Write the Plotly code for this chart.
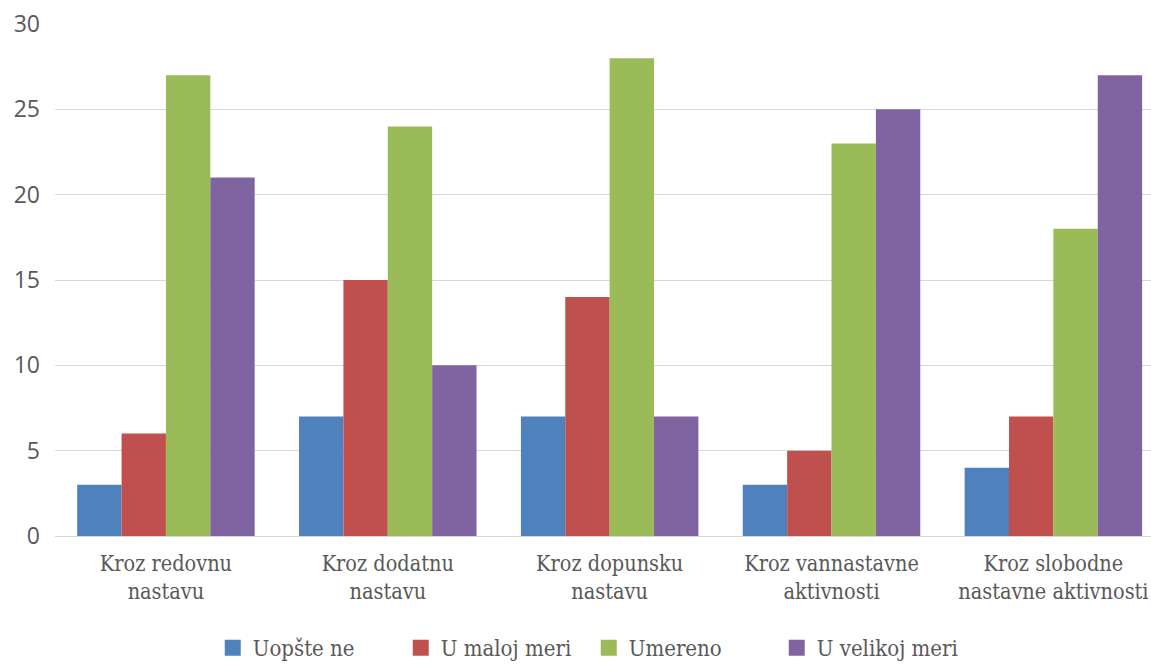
import plotly.graph_objects as go

categories = [
    "Kroz redovnu<br>nastavu",
    "Kroz dodatnu<br>nastavu",
    "Kroz dopunsku<br>nastavu",
    "Kroz vannastavne<br>aktivnosti",
    "Kroz slobodne<br>nastavne aktivnosti",
]
series_names = ["Uopšte ne", "U maloj meri", "Umereno", "U velikoj meri"]
uopste_ne = [3, 7, 7, 3, 4]
u_maloj_meri = [6, 15, 14, 5, 7]
umereno = [27, 24, 28, 23, 18]
u_velikoj_meri = [21, 10, 7, 25, 27]
colors = ["#4F81BD", "#C0504D", "#9BBB59", "#8064A2"]

SERIF = "DejaVu Serif Condensed, DejaVu Serif"

fig = go.Figure()
for name, vals, col in zip(series_names,
                           [uopste_ne, u_maloj_meri, umereno, u_velikoj_meri],
                           colors):
    fig.add_trace(go.Bar(name=name, x=categories, y=vals, marker_color=col,
                         marker_line_width=0, legendgroup=name, showlegend=False))
    # larger square swatch for the legend entry
    fig.add_trace(go.Scatter(name=name, x=[None], y=[None], mode="markers",
                             marker=dict(symbol="square", size=22, color=col),
                             legendgroup=name, showlegend=True))

fig.update_layout(
    width=1151, height=669,
    margin=dict(l=55, r=0, t=24, b=133),
    barmode="group", bargap=0.2, bargroupgap=0,
    plot_bgcolor="white", paper_bgcolor="white",
    font=dict(family=SERIF, size=21.5, color="#595959"),
    legend=dict(orientation="h", x=0.487, xanchor="center",
                yref="container", y=-0.045, yanchor="bottom",
                font=dict(family=SERIF, size=22, color="#595959"),
                itemwidth=30, traceorder="normal",
                entrywidth=143, entrywidthmode="pixels"),
    showlegend=True,
)
fig.update_xaxes(range=[-0.5, 4.44], showgrid=False, showline=True,
                 linecolor="#d9d9d9", linewidth=1, ticks="", automargin=False,
                 ticklabelstandoff=8,
                 tickfont=dict(family=SERIF, size=21.5, color="#595959"))
fig.update_yaxes(range=[0, 30], dtick=5, showgrid=True, gridcolor="#d9d9d9",
                 gridwidth=1, zeroline=False, ticks="", ticklabelstandoff=14,
                 automargin=False,
                 tickfont=dict(family="Open Sans", size=23, color="#595959"))

fig.write_html("out.html")
